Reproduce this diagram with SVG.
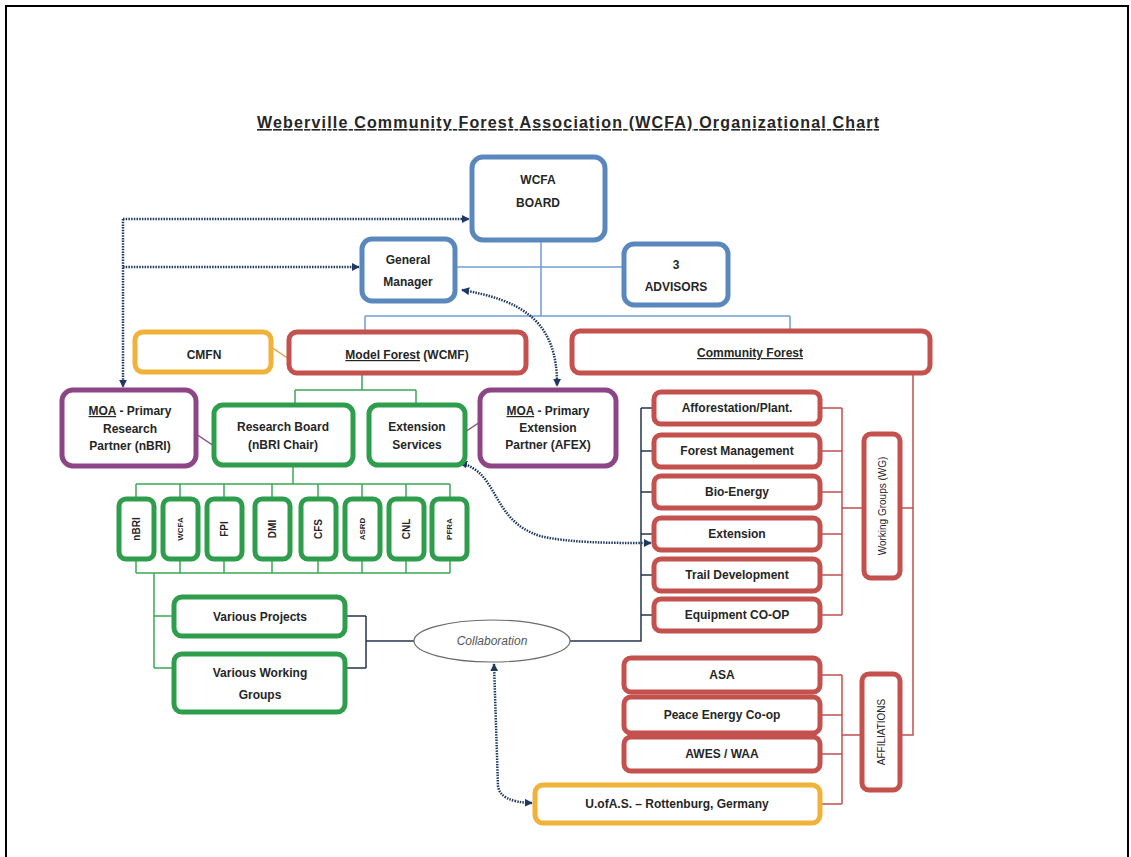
<svg xmlns="http://www.w3.org/2000/svg" width="1131" height="857" viewBox="0 0 1131 857">
<style>
text{font-family:"Liberation Sans",Arial,sans-serif;font-weight:bold;font-size:12px;fill:#262626;text-anchor:middle}
.t{font-size:16px}
.u{text-decoration:underline}
.sm{font-size:10px}
.xs{font-size:8px}
.it{font-style:italic;font-weight:normal;fill:#555}
rect{fill:#fff;stroke-width:5}
.blue{stroke:#5b87bf}
.red{stroke:#c4514e}
.green{stroke:#2f9e4c}
.purple{stroke:#8e4585}
.orange{stroke:#f0b238}
.lb{stroke:#6f9fd2;stroke-width:1.5;fill:none}
.lg{stroke:#3aa655;stroke-width:1.5;fill:none}
.lr{stroke:#c0504d;stroke-width:1.5;fill:none}
.lp{stroke:#8e4585;stroke-width:1.5;fill:none}
.lo{stroke:#d9a040;stroke-width:1.5;fill:none}
.ln{stroke:#25344f;stroke-width:1.5;fill:none}
.dot{stroke:#1f3864;stroke-width:2.5;stroke-dasharray:1.5 1.2;fill:none}
</style>
<defs>
<marker id="ah" viewBox="0 0 10 10" refX="9" refY="5" markerWidth="3.2" markerHeight="3.2" orient="auto-start-reverse"><path d="M0,0 L10,5 L0,10 z" fill="#1f3864"/></marker>
</defs>
<g id="page-border" stroke="#000" stroke-width="2" fill="none">
<path d="M6,857 V6 H1128 V857"/>
</g>
<text id="title" class="t u" x="568" y="128" textLength="622">Weberville Community Forest Association (WCFA) Organizational Chart</text>

<g id="connectors">
<path class="lb" d="M541,240 V316 M455,267 H624 M365,316 H790 M365,316 V332 M790,316 V331"/>
<path class="lo" d="M271,347 L289,359"/>
<path class="lg" d="M362,373 V390 M295,390 H416 M295,390 V405 M416,390 V405"/>
<path class="lp" d="M196,434 L214,446 M465,432 L480,422"/>
<path class="lg" d="M293,465 V484 M136,484 H450 M136,484 V499 M180,484 V499 M224,484 V499 M272,484 V499 M318,484 V499 M362,484 V499 M406,484 V499 M450,484 V499"/>
<path class="lg" d="M136,573 H450 M136,559 V573 M180,559 V573 M224,559 V573 M272,559 V573 M318,559 V573 M362,559 V573 M406,559 V573 M450,559 V573 M154,573 V668 M154,616 H174 M154,668 H174"/>
<path class="ln" d="M345,616 H366 M345,668 H366 M366,616 V668 M366,641 H414 M570,641 H641 V408 M641,408 H654 M641,451 H654 M641,492 H654 M641,534 H654 M641,575 H654 M641,615 H654"/>
<path class="lr" d="M820,408 H842 M820,451 H842 M820,492 H842 M820,534 H842 M820,575 H842 M820,615 H842 M842,408 V615 M842,508 H864 M900,508 H913 M913,373 V735 H900"/>
<path class="lr" d="M820,675 H842 M820,715 H842 M820,754 H842 M820,804 H842 M842,675 V804 M842,735 H862"/>
<path class="dot" marker-end="url(#ah)" d="M123,219 H469"/>
<path class="dot" marker-end="url(#ah)" d="M123,219 V387"/>
<path class="dot" marker-end="url(#ah)" d="M123,267 H359"/>
<path class="dot" marker-start="url(#ah)" marker-end="url(#ah)" d="M462,290 C520,300 558,320 557,386"/>
<path class="dot" marker-start="url(#ah)" marker-end="url(#ah)" d="M460,463 C500,472 490,520 540,536 C570,543 610,543 651,543"/>
<path class="dot" marker-start="url(#ah)" marker-end="url(#ah)" d="M494,664 L498,786 Q500,802 532,803"/>
</g>

<g id="board"><rect class="blue" x="472" y="157" width="133" height="83" rx="11"/><text x="538" y="184">WCFA</text><text x="538" y="207">BOARD</text></g>
<g id="general-manager"><rect class="blue" x="362" y="239" width="93" height="62" rx="10"/><text x="408" y="264">General</text><text x="408" y="286">Manager</text></g>
<g id="advisors"><rect class="blue" x="624" y="244" width="104" height="61" rx="10"/><text x="676" y="269">3</text><text x="676" y="291">ADVISORS</text></g>
<g id="cmfn"><rect class="orange" x="135" y="332" width="136" height="40" rx="8"/><text x="204" y="359">CMFN</text></g>
<g id="model-forest"><rect class="red" x="289" y="332" width="237" height="41" rx="8"/><text x="407" y="359"><tspan class="u">Model Forest</tspan> (WCMF)</text></g>
<g id="community-forest"><rect class="red" x="572" y="331" width="358" height="42" rx="8"/><text class="u" x="750" y="357">Community Forest</text></g>
<g id="moa-research"><rect class="purple" x="62" y="390" width="134" height="76" rx="11"/><text x="130" y="415"><tspan class="u">MOA</tspan> - Primary</text><text x="130" y="433">Research</text><text x="130" y="450">Partner (nBRI)</text></g>
<g id="research-board"><rect class="green" x="214" y="405" width="139" height="60" rx="9"/><text x="283" y="431">Research Board</text><text x="283" y="449">(nBRI Chair)</text></g>
<g id="extension-services"><rect class="green" x="369" y="405" width="96" height="60" rx="9"/><text x="417" y="431">Extension</text><text x="417" y="449">Services</text></g>
<g id="moa-extension"><rect class="purple" x="480" y="390" width="136" height="76" rx="11"/><text x="548" y="415"><tspan class="u">MOA</tspan> - Primary</text><text x="548" y="432">Extension</text><text x="548" y="449">Partner (AFEX)</text></g>

<g id="nbri"><rect class="green" x="119" y="499" width="35" height="60" rx="7"/><text class="sm" transform="translate(140,529) rotate(-90)">nBRI</text></g>
<g id="wcfa"><rect class="green" x="163" y="499" width="35" height="60" rx="7"/><text class="xs" transform="translate(183,529) rotate(-90)">WCFA</text></g>
<g id="fpi"><rect class="green" x="207" y="499" width="35" height="60" rx="7"/><text class="sm" transform="translate(228,529) rotate(-90)">FPI</text></g>
<g id="dmi"><rect class="green" x="255" y="499" width="35" height="60" rx="7"/><text class="sm" transform="translate(276,529) rotate(-90)">DMI</text></g>
<g id="cfs"><rect class="green" x="301" y="499" width="35" height="60" rx="7"/><text class="sm" transform="translate(322,529) rotate(-90)">CFS</text></g>
<g id="asrd"><rect class="green" x="345" y="499" width="35" height="60" rx="7"/><text class="xs" transform="translate(365,529) rotate(-90)">ASRD</text></g>
<g id="cnl"><rect class="green" x="389" y="499" width="35" height="60" rx="7"/><text class="sm" transform="translate(410,529) rotate(-90)">CNL</text></g>
<g id="pfra"><rect class="green" x="432" y="499" width="35" height="60" rx="7"/><text class="xs" transform="translate(452,529) rotate(-90)">PFRA</text></g>

<g id="various-projects"><rect class="green" x="174" y="597" width="171" height="39" rx="8"/><text x="260" y="621">Various Projects</text></g>
<g id="various-working-groups"><rect class="green" x="174" y="654" width="171" height="58" rx="8"/><text x="260" y="677">Various Working</text><text x="260" y="699">Groups</text></g>
<g id="collaboration"><ellipse cx="492" cy="641" rx="78" ry="21" fill="#fff" stroke="#6b6b6b" stroke-width="1.2"/><text class="it" x="492" y="645">Collaboration</text></g>

<g id="afforestation"><rect class="red" x="654" y="392" width="166" height="32" rx="7"/><text x="737" y="412">Afforestation/Plant.</text></g>
<g id="forest-management"><rect class="red" x="654" y="435" width="166" height="32" rx="7"/><text x="737" y="455">Forest Management</text></g>
<g id="bio-energy"><rect class="red" x="654" y="476" width="166" height="32" rx="7"/><text x="737" y="496">Bio-Energy</text></g>
<g id="extension"><rect class="red" x="654" y="518" width="166" height="32" rx="7"/><text x="737" y="538">Extension</text></g>
<g id="trail-development"><rect class="red" x="654" y="559" width="166" height="32" rx="7"/><text x="737" y="579">Trail Development</text></g>
<g id="equipment-coop"><rect class="red" x="654" y="599" width="166" height="32" rx="7"/><text x="737" y="619">Equipment CO-OP</text></g>
<g id="working-groups"><rect class="red" x="864" y="434" width="36" height="144" rx="7"/><text class="sm" style="font-weight:normal" transform="translate(886,506) rotate(-90)">Working Groups (WG)</text></g>

<g id="asa"><rect class="red" x="624" y="658" width="196" height="34" rx="7"/><text x="722" y="679">ASA</text></g>
<g id="peace-energy"><rect class="red" x="624" y="697" width="196" height="36" rx="7"/><text x="722" y="719">Peace Energy Co-op</text></g>
<g id="awes-waa"><rect class="red" x="624" y="737" width="196" height="34" rx="7"/><text x="722" y="758">AWES / WAA</text></g>
<g id="affiliations"><rect class="red" x="862" y="674" width="38" height="116" rx="7"/><text class="sm" style="font-weight:normal" transform="translate(885,732) rotate(-90)">AFFILIATIONS</text></g>
<g id="uofas"><rect class="orange" x="535" y="785" width="285" height="38" rx="8"/><text x="677" y="808">U.ofA.S. – Rottenburg, Germany</text></g>
</svg>
